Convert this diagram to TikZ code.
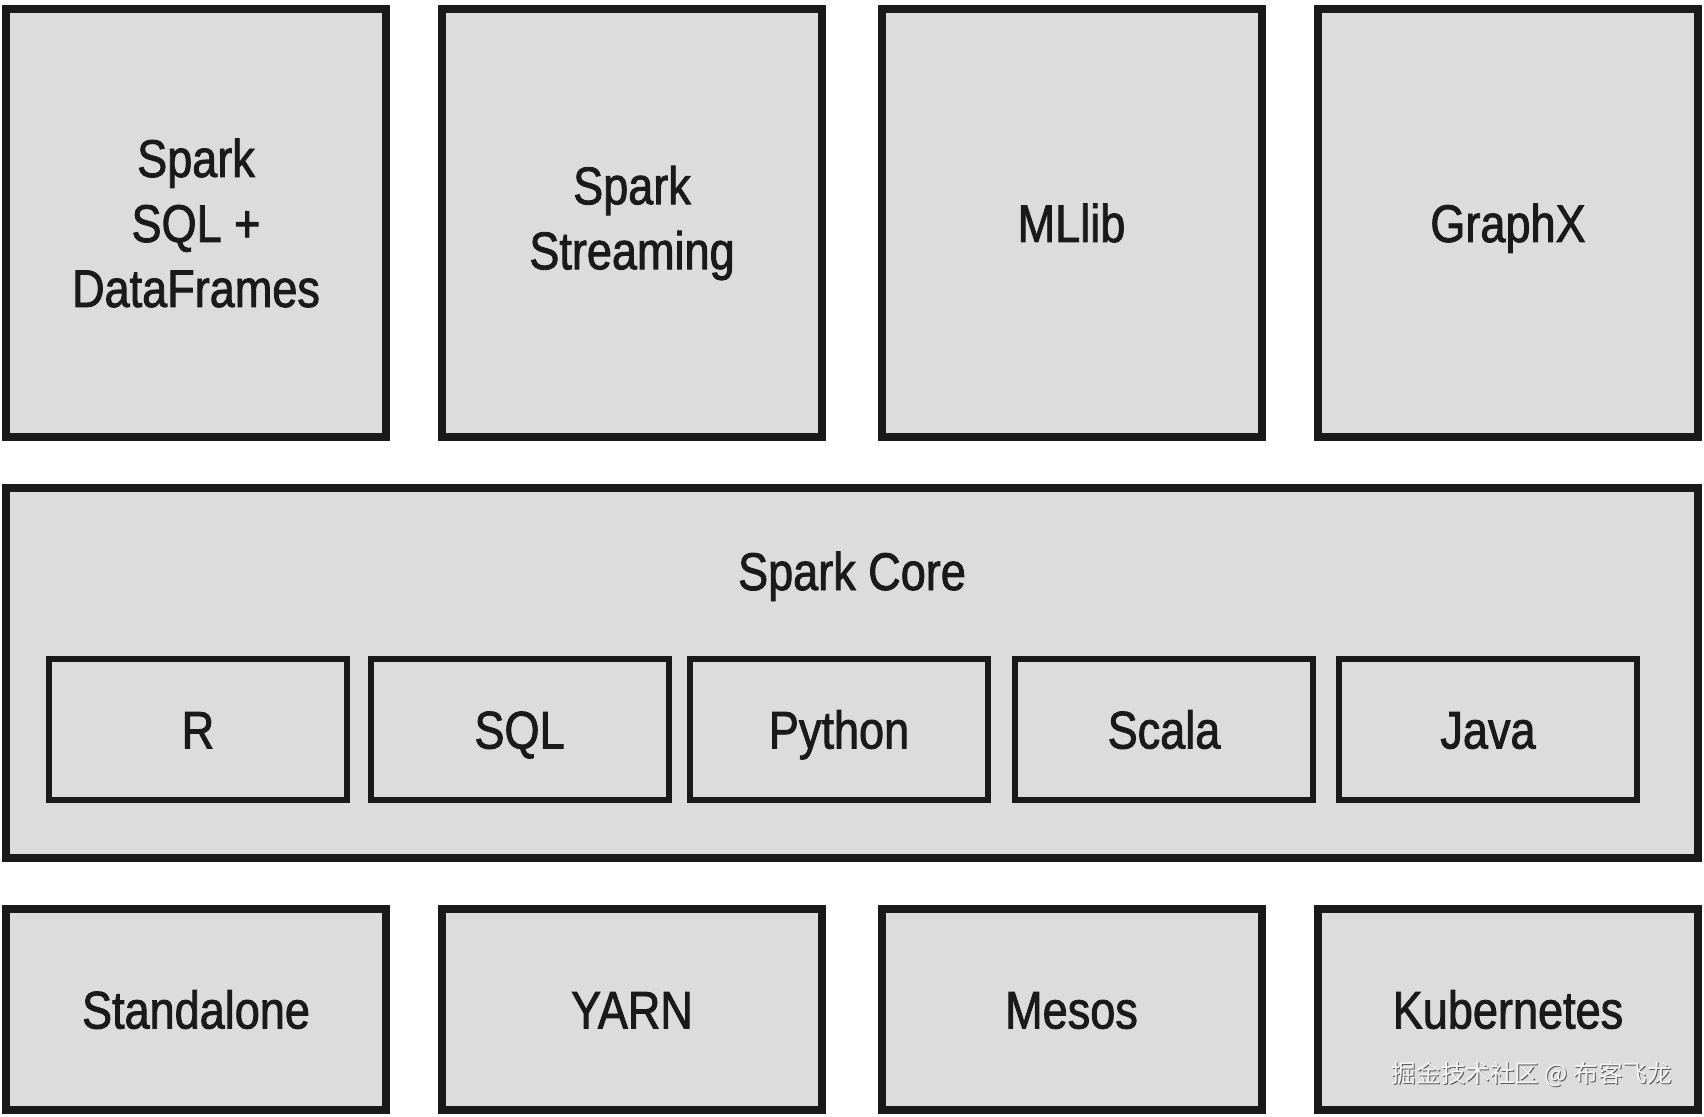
\documentclass[tikz,border=0pt]{standalone}
\usepackage{fontspec}
\setmainfont{Liberation Sans}[FakeStretch=0.85,FakeBold=1.6]
\newfontfamily\cjkfont{Noto Sans CJK SC}
\definecolor{boxfill}{HTML}{DCDCDC}
\definecolor{boxline}{HTML}{1A1A1A}
\begin{document}
\begin{tikzpicture}[x=0.5pt,y=-0.5pt,
  bigbox/.style={draw=boxline, fill=boxfill, line width=4pt, inner sep=0pt, align=center,
     font=\fontsize{26.5}{32.5}\selectfont, text=boxline, text height=19pt, text depth=0pt},
  topbox/.style={bigbox, minimum width=190pt, minimum height=214pt},
  multiline/.style={text height={}, text depth={}},
  botbox/.style={bigbox, minimum width=190pt, minimum height=100.5pt},
  langbox/.style={bigbox, line width=3pt, minimum width=149pt, minimum height=70.5pt},
  lbl/.style={font=\fontsize{26.5}{32.5}\selectfont, text=boxline, inner sep=0pt, text height=19pt, text depth=0pt}]
\useasboundingbox[fill=white] (0,0) rectangle (1704,1117);
% top row
\node[topbox, multiline] (sql) at (196,223) {Spark\\SQL +\\DataFrames};
\node[topbox, multiline] (stream) at (632,223) {Spark\\Streaming};
\node[topbox] (mllib) at (1071.5,223) {MLlib};
\node[topbox] (graphx) at (1508,223) {GraphX};
% core
\node[bigbox, minimum width=846pt, minimum height=185pt] (core) at (852,673) {};
\node[lbl] (coret) at (852,571) {Spark Core};
\node[langbox] (r) at (198,729.5) {R};
\node[langbox] (lsql) at (519.5,729.5) {SQL};
\node[langbox] (py) at (839,729.5) {Python};
\node[langbox] (scala) at (1164,729.5) {Scala};
\node[langbox] (java) at (1488,729.5) {Java};
% bottom row
\node[botbox] (sa) at (196,1009.5) {Standalone};
\node[botbox] (yarn) at (632,1009.5) {YARN};
\node[botbox] (mesos) at (1071.5,1009.5) {Mesos};
\node[botbox] (k8s) at (1508,1009.5) {Kubernetes};
% watermark
\node[font=\cjkfont\fontsize{12.3}{12.3}\selectfont, text=gray!70!black, inner sep=0pt] (wmshadow) at (1533,1075) {掘金技术社区 @ 布客飞龙};
\node[font=\cjkfont\fontsize{12.3}{12.3}\selectfont, text=white!92!gray, inner sep=0pt] (wm) at (1532,1074) {掘金技术社区 @ 布客飞龙};
\end{tikzpicture}
\end{document}
